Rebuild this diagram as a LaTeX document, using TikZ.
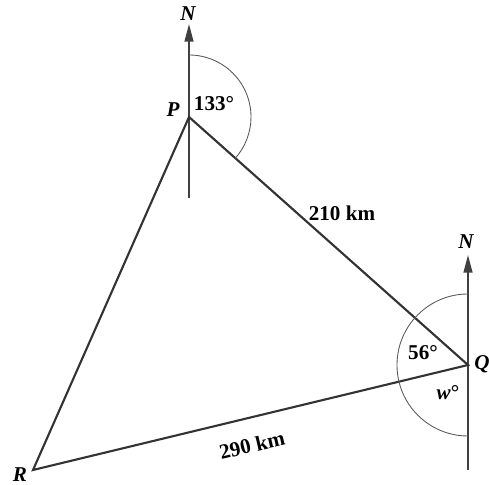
\documentclass[tikz,border=0pt]{standalone}
\usepackage{fontspec}
\setmainfont{Liberation Serif}
\usetikzlibrary{arrows.meta}
\tikzset{
    side/.style={line width=1.2pt, draw=black!80},
    northline/.style={line width=1pt, draw=black!75, -{Triangle[length=10pt, width=5pt]}},
    anglearc/.style={line width=0.5pt, draw=black!65},
    lbl/.style={font=\bfseries\large},
}
\begin{document}
\begin{tikzpicture}
    \useasboundingbox (0, 0) rectangle (9.78, 9.70);
    % Points
    \coordinate (P) at (3.78, 7.36);
    \coordinate (Q) at (9.36, 2.40);
    \coordinate (R) at (0.66, 0.30);
    \coordinate (Pfoot) at (3.78, 5.74);
    \coordinate (Ptip) at (3.78, 9.22);
    \coordinate (Qfoot) at (9.36, 0.30);
    \coordinate (Qtip) at (9.36, 4.60);

    % North lines
    \draw[northline] (Pfoot) -- (Ptip);
    \draw[northline] (Qfoot) -- (Qtip);
    \node[lbl, font=\bfseries\itshape\large] (NP) at (3.76, 9.42) {N};
    \node[lbl, font=\bfseries\itshape\large] (NQ) at (9.32, 4.86) {N};

    % Triangle
    \draw[side] (P) -- (Q) -- (R) -- cycle;

    % Angle arcs
    \draw[anglearc] ([shift={(90:1.24)}]P) arc (90:-42:1.24);
    \draw[anglearc] ([shift={(90:1.42)}]Q) arc (90:270:1.42);

    % Labels
    \node[lbl, font=\bfseries\itshape\large] (Plbl) at (3.46, 7.50) {P};
    \node[lbl, font=\bfseries\itshape\large] (Qlbl) at (9.64, 2.42) {Q};
    \node[lbl, font=\bfseries\itshape\large] (Rlbl) at (0.40, 0.20) {R};
    \node[lbl] (bearP) at (4.28, 7.62) {133°};
    \node[lbl] (angQ) at (8.46, 2.64) {56°};
    \node[lbl] (angw) at (8.96, 1.84) {\textit{w}°};
    \node[lbl] (dPQ) at (6.84, 5.44) {210 km};
    \node[lbl, rotate=13] (dQR) at (5.04, 0.80) {290 km};
\end{tikzpicture}
\end{document}
